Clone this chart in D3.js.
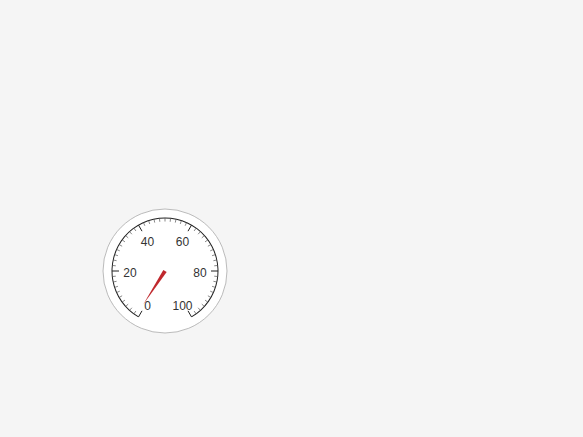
<!DOCTYPE html>
<html>
<head>
<meta charset="utf-8">
<script src="https://cdn.jsdelivr.net/npm/d3@7"></script>
<style>
  body { margin: 0; background: #f5f5f5; }
  text { font-family: "Liberation Sans", Arial, sans-serif; }
</style>
</head>
<body>
<div id="chart"></div>
<script>
// gauge data
var minValue = 0;
var maxValue = 100;
var needleValue = [1];
var majorTicks = [0, 20, 40, 60, 80, 100];
var minorTicks = d3.range(0, 101, 2);
var tickLabels = ["0", "20", "40", "60", "80", "100"];

var width = 583, height = 437;
var cx = 165, cy = 271;
var outerRadius = 62, arcRadius = 53, labelRadius = 35, needleLength = 40;

var angle = d3.scaleLinear()
  .domain([minValue, maxValue])
  .range([-150, 150]);

var svg = d3.select("#chart").append("svg")
  .attr("width", width)
  .attr("height", height);

var g = svg.append("g")
  .attr("transform", "translate(" + cx + "," + cy + ")");

g.append("circle")
  .attr("r", outerRadius)
  .attr("fill", "#fff")
  .attr("stroke", "#aaa")
  .attr("stroke-width", 0.8);

var rad = d => angle(d) * Math.PI / 180;

// scale arc
g.append("path")
  .attr("d", d3.arc()
    .innerRadius(arcRadius - 0.5)
    .outerRadius(arcRadius + 0.5)
    .startAngle(rad(minValue))
    .endAngle(rad(maxValue))())
  .attr("fill", "#222");

function tick(r0, r1) {
  return function(sel) {
    sel.attr("x1", d => r0 * Math.sin(rad(d)))
      .attr("y1", d => -r0 * Math.cos(rad(d)))
      .attr("x2", d => r1 * Math.sin(rad(d)))
      .attr("y2", d => -r1 * Math.cos(rad(d)));
  };
}

g.append("g").selectAll("line")
  .data(minorTicks.filter(d => majorTicks.indexOf(d) < 0))
  .enter().append("line")
  .call(tick(arcRadius, arcRadius - 3.5))
  .attr("stroke", "#555")
  .attr("stroke-width", 0.7);

g.append("g").selectAll("line")
  .data(majorTicks)
  .enter().append("line")
  .call(tick(arcRadius, arcRadius - 7))
  .attr("stroke", "#222")
  .attr("stroke-width", 1);

// end labels sit a bit lower than the rest
var isEnd = d => d === minValue || d === maxValue;

g.append("g").selectAll("text")
  .data(majorTicks)
  .enter().append("text")
  .attr("x", d => labelRadius * Math.sin(rad(d)))
  .attr("y", d => -labelRadius * Math.cos(rad(d)) + (isEnd(d) ? 4 : 1.5))
  .attr("dy", "0.35em")
  .attr("text-anchor", "middle")
  .attr("font-size", "12px")
  .attr("fill", "#333")
  .text((d, i) => tickLabels[i]);

// needle
g.selectAll(".needle")
  .data(needleValue)
  .enter().append("path")
  .attr("class", "needle")
  .attr("d", "M-2,0L2,0L0," + (-needleLength) + "Z")
  .attr("transform", d => "rotate(" + angle(d) + ")")
  .attr("fill", "#c0282d");
</script>
</body>
</html>
